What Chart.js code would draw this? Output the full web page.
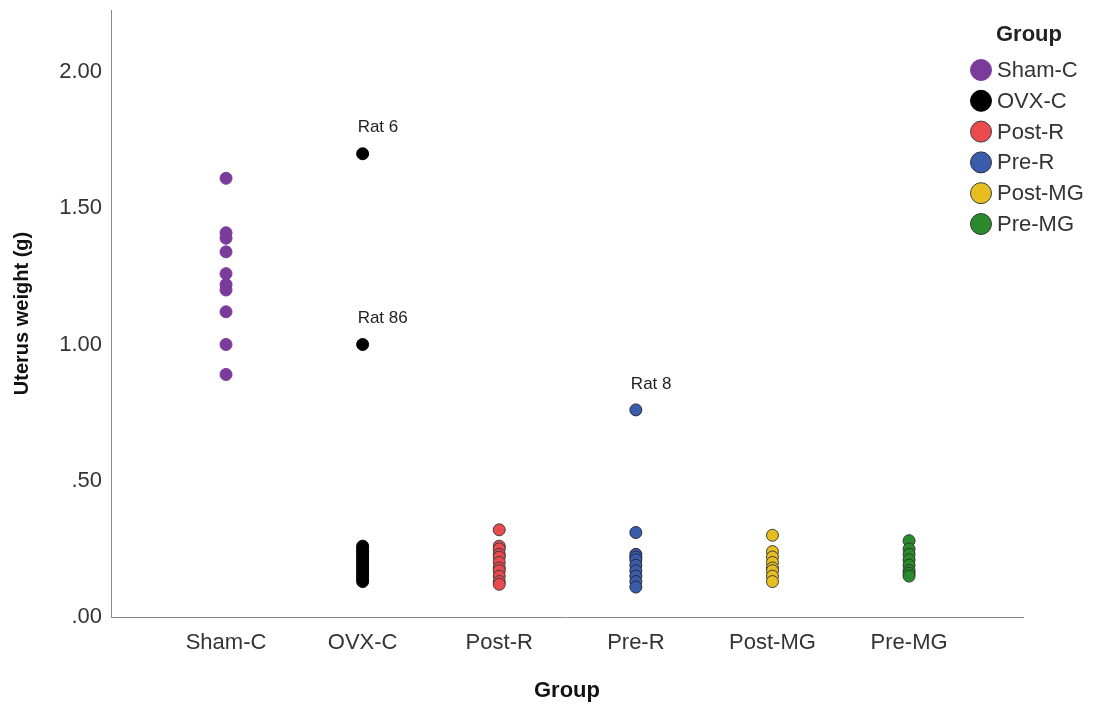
<!DOCTYPE html>
<html>
<head>
<meta charset="utf-8">
<script src="https://cdn.jsdelivr.net/npm/chart.js@4"></script>
<style>
  html, body { margin: 0; padding: 0; background: #ffffff; }
  #wrap { width: 1100px; height: 704px; }
</style>
</head>
<body>
<div id="wrap"><canvas id="chart" width="1100" height="704"></canvas></div>
<script>
// Uterus weight (g) per rat, by treatment group
const groups = ['Sham-C', 'OVX-C', 'Post-R', 'Pre-R', 'Post-MG', 'Pre-MG'];
const shamC  = [1.61, 1.41, 1.39, 1.34, 1.26, 1.22, 1.20, 1.12, 1.00, 0.89];
const ovxC   = [1.70, 1.00, 0.26, 0.25, 0.24, 0.23, 0.22, 0.21, 0.20, 0.19, 0.18, 0.17, 0.16, 0.15, 0.14, 0.13];
const postR  = [0.32, 0.26, 0.25, 0.23, 0.22, 0.20, 0.18, 0.17, 0.15, 0.13, 0.12];
const preR   = [0.76, 0.31, 0.23, 0.22, 0.21, 0.19, 0.17, 0.15, 0.13, 0.11];
const postMG = [0.30, 0.24, 0.22, 0.20, 0.18, 0.17, 0.15, 0.13];
const preMG  = [0.28, 0.25, 0.23, 0.21, 0.19, 0.17, 0.16, 0.15];
const yTicks = [0, 0.5, 1.0, 1.5, 2.0];

// Labelled outliers
const outlierText  = ['Rat 6', 'Rat 86', 'Rat 8'];
const outlierGroup = [1, 1, 3];
const outlierValue = [1.70, 1.00, 0.76];

const seriesValues = [shamC, ovxC, postR, preR, postMG, preMG];
const fills   = ['#7b3b9b', '#000000', '#ea4a4d', '#3b5bab', '#e6be1f', '#2b8a2e'];
const borders = ['#7b3b9b', '#000000', '#3c3c3c', '#2a2a3a', '#3c3c3c', '#2c3c2c'];

const FONT = '"Liberation Sans", Arial, sans-serif';

const datasets = groups.map((g, i) => ({
  label: g,
  data: seriesValues[i].map(v => ({ x: i + 1, y: v })),
  backgroundColor: fills[i],
  borderColor: borders[i],
  borderWidth: 1,
  pointRadius: 6,
  pointHoverRadius: 6
}));

// Text tags above the labelled points
const outlierLabels = {
  id: 'outlierLabels',
  afterDatasetsDraw(chart) {
    const { ctx, scales: { x, y } } = chart;
    ctx.save();
    ctx.font = '17px ' + FONT;
    ctx.fillStyle = '#222222';
    ctx.textAlign = 'left';
    ctx.textBaseline = 'middle';
    outlierText.forEach((t, k) => {
      const px = x.getPixelForValue(outlierGroup[k] + 1);
      const py = y.getPixelForValue(outlierValue[k]);
      ctx.fillText(t, px - 5, py - 26);
    });
    ctx.restore();
  }
};

// Group legend in the upper right corner
const groupLegend = {
  id: 'groupLegend',
  afterDraw(chart) {
    const { ctx } = chart;
    ctx.save();
    ctx.font = 'bold 22px ' + FONT;
    ctx.fillStyle = '#222222';
    ctx.textAlign = 'center';
    ctx.textBaseline = 'middle';
    ctx.fillText('Group', 1029, 35);
    ctx.font = '22px ' + FONT;
    ctx.textAlign = 'left';
    chart.data.datasets.forEach((ds, i) => {
      const cy = 70 + i * 30.8;
      ctx.beginPath();
      ctx.arc(981, cy, 10.5, 0, Math.PI * 2);
      ctx.fillStyle = ds.backgroundColor;
      ctx.fill();
      ctx.lineWidth = 1;
      ctx.strokeStyle = ds.borderColor;
      ctx.stroke();
      ctx.fillStyle = '#333333';
      ctx.fillText(ds.label, 997, cy + 1);
    });
    ctx.restore();
  }
};

new Chart(document.getElementById('chart'), {
  type: 'scatter',
  data: { datasets },
  plugins: [outlierLabels, groupLegend],
  options: {
    responsive: false,
    animation: false,
    layout: { padding: { top: 10, right: 77, left: 0, bottom: 0 } },
    plugins: {
      legend: { display: false },
      tooltip: { enabled: false }
    },
    scales: {
      x: {
        type: 'linear',
        min: 0.158,
        max: 6.834,
        afterBuildTicks(scale) { scale.ticks = groups.map((g, i) => ({ value: i + 1 })); },
        afterFit(scale) { scale.height = 87; scale.paddingLeft = 0; scale.paddingRight = 0; },
        grid: { display: false, drawTicks: false },
        border: { display: true, color: '#8a8a8a', width: 1 },
        ticks: {
          padding: 13,
          color: '#333333',
          font: { family: FONT, size: 22 },
          callback: (v) => groups[v - 1]
        },
        title: {
          display: true,
          text: 'Group',
          color: '#111111',
          font: { family: FONT, size: 22, weight: 'bold' },
          padding: { top: 0, bottom: 0 }
        }
      },
      y: {
        min: 0,
        max: 2.2275,
        afterBuildTicks(scale) { scale.ticks = yTicks.map(v => ({ value: v })); },
        afterFit(scale) { scale.width = 111; scale.paddingTop = 0; scale.paddingBottom = 0; },
        grid: { display: false, drawTicks: false },
        border: { display: true, color: '#8a8a8a', width: 1 },
        ticks: {
          padding: 9,
          color: '#333333',
          font: { family: FONT, size: 22 },
          callback: (v) => v.toFixed(2).replace(/^0/, '')
        },
        title: {
          display: true,
          text: 'Uterus weight (g)',
          color: '#111111',
          font: { family: FONT, size: 20, weight: 'bold' },
          padding: { top: 10, bottom: 0 }
        }
      }
    }
  }
});
</script>
</body>
</html>
